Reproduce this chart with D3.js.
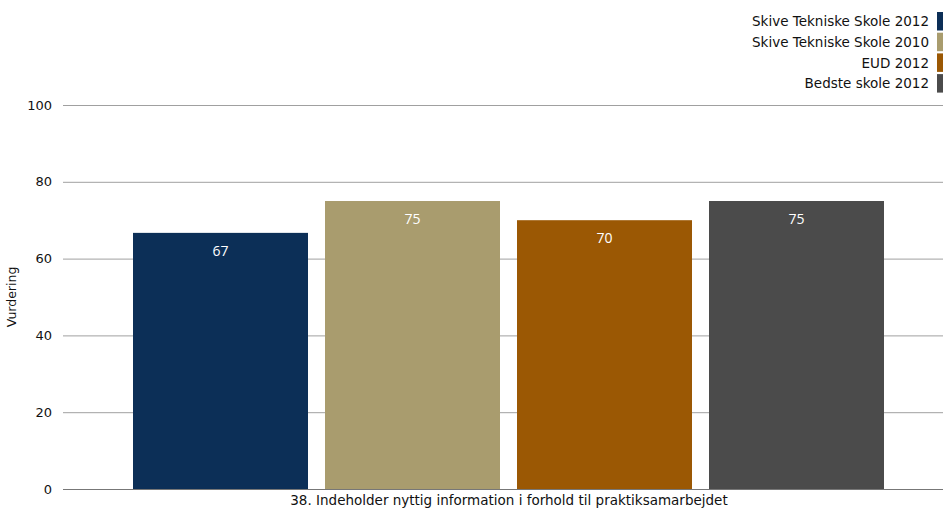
<!DOCTYPE html>
<html><head><meta charset="utf-8">
<script src="https://cdn.jsdelivr.net/npm/d3@7"></script>
<style>
html,body{margin:0;padding:0;background:#fff;}
svg{display:block;}
text{font-family:"DejaVu Sans",Verdana,sans-serif;fill:#111;}
</style></head>
<body>
<svg id="c" width="943" height="512"></svg>
<script>
const series = ["Skive Tekniske Skole 2012","Skive Tekniske Skole 2010","EUD 2012","Bedste skole 2012"];
const values = [66.7, 75.0, 70.0, 75.0];
const labels = ["67","75","70","75"];
const colors = ["#0c2f57","#a99c6e","#9b5804","#4b4b4b"];
const yTicks = [0,20,40,60,80,100];
const category = "38. Indeholder nyttig information i forhold til praktiksamarbejdet";
const yTitle = "Vurdering";

const svg = d3.select("#c");
const y = d3.scaleLinear().domain([0,100]).range([489,105]);
const x = d3.scaleBand().domain(series).range([133,884]).paddingInner(17/192).paddingOuter(0);

// grid
svg.append("g").selectAll("line").data(yTicks).join("line")
  .attr("x1",63).attr("x2",943)
  .attr("y1",d=>y(d)+0.5).attr("y2",d=>y(d)+0.5)
  .attr("stroke",d=>d===0?"#777":"#a0a0a0").attr("stroke-width",1);

svg.append("g").selectAll("text").data(yTicks).join("text")
  .attr("x",52).attr("y",d=>y(d)).attr("dy","0.35em")
  .attr("text-anchor","end").style("font-size","13px").text(d=>d);

// bars
svg.append("g").selectAll("rect").data(series).join("rect")
  .attr("x",d=>x(d)).attr("width",x.bandwidth())
  .attr("y",(d,i)=>y(values[i])).attr("height",(d,i)=>y(0)-y(values[i]))
  .attr("fill",(d,i)=>colors[i]);

svg.append("g").selectAll("text").data(series).join("text")
  .attr("x",d=>x(d)+x.bandwidth()/2).attr("y",(d,i)=>y(values[i])+18)
  .attr("dy","0.35em").attr("text-anchor","middle")
  .style("font-family","'Open Sans',sans-serif").style("font-size","14px").style("fill","#fff")
  .text((d,i)=>labels[i]);

// axis titles
svg.append("text").attr("x",509).attr("y",500).attr("dy","0.35em")
  .attr("text-anchor","middle").style("font-size","13.5px").text(category);
svg.append("text").attr("transform","translate(12,297) rotate(-90)").attr("dy","0.35em")
  .attr("text-anchor","middle").style("font-size","12.5px").text(yTitle);

// legend
const lg = svg.append("g").selectAll("g").data(series).join("g")
  .attr("transform",(d,i)=>`translate(0,${12+i*20.7})`);
lg.append("rect").attr("x",937).attr("y",0).attr("width",8).attr("height",18.5).attr("fill",(d,i)=>colors[i]);
lg.append("text").attr("x",929).attr("y",9.5).attr("dy","0.35em").attr("text-anchor","end")
  .style("font-size","13.5px").text(d=>d);
</script>
</body></html>
